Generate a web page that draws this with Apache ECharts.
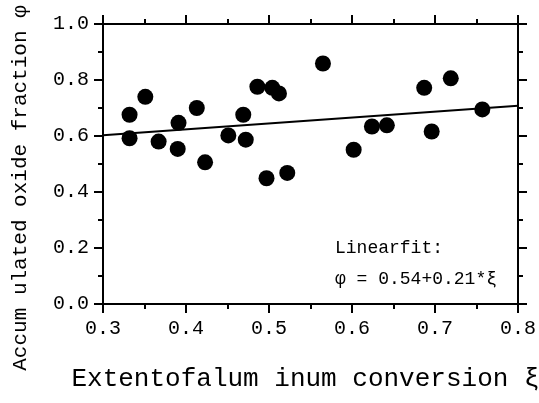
<!DOCTYPE html>
<html>
<head>
<meta charset="utf-8">
<script src="https://cdn.jsdelivr.net/npm/echarts@6/dist/echarts.min.js"></script>
<style>
  html, body { margin: 0; padding: 0; background: #fff; }
  #chart { width: 539px; height: 403px; }
</style>
</head>
<body>
<div id="chart"></div>
<script>
// measured points: extent of aluminum conversion vs accumulated oxide fraction
var xi = [0.332, 0.332, 0.351, 0.367, 0.390, 0.391, 0.413, 0.423, 0.451, 0.469, 0.472, 0.486,
  0.497, 0.504, 0.512, 0.522, 0.565, 0.602, 0.624, 0.642, 0.687, 0.696, 0.719, 0.757]
var phi = [0.676, 0.592, 0.740, 0.580, 0.554, 0.647, 0.700, 0.506, 0.602, 0.676, 0.587, 0.776,
  0.449, 0.772, 0.752, 0.468, 0.859, 0.551, 0.634, 0.638, 0.772, 0.616, 0.806, 0.695]
// end points of the linear fit line
var fitX = [0.3, 0.8]
var fitY = [0.603, 0.708]
var xTicks = { min: 0.3, max: 0.8, step: 0.1 }
var yTicks = { min: 0.0, max: 1.0, step: 0.2 }

var FONT = '"Liberation Mono", "DejaVu Sans Mono", monospace'

function axisStyle(showLabel) {
  return {
    axisLine: { show: true, onZero: false, lineStyle: { color: '#000', width: 2 } },
    axisTick: { show: true, inside: false, length: 9, lineStyle: { color: '#000', width: 2 } },
    minorTick: { show: true, splitNumber: 2, length: 5, lineStyle: { color: '#000', width: 2 } },
    splitLine: { show: false },
    axisLabel: {
      show: showLabel,
      color: '#000',
      fontFamily: FONT,
      fontSize: 20,
      formatter: function (v) { return v.toFixed(1) }
    }
  }
}

var chart = echarts.init(document.getElementById('chart'), null, { renderer: 'canvas' })

var xBottom = Object.assign({
  type: 'value', position: 'bottom', min: xTicks.min, max: xTicks.max, interval: xTicks.step,
  name: 'Extentofalum inum conversion ξ',
  nameLocation: 'middle',
  nameGap: 62,
  nameTextStyle: { color: '#000', fontFamily: FONT, fontSize: 26, padding: [0, 10, 0, 0] }
}, axisStyle(true))
xBottom.axisLabel.margin = 15

var xTop = Object.assign({
  type: 'value', position: 'top', min: xTicks.min, max: xTicks.max, interval: xTicks.step
}, axisStyle(false))

var yLeft = Object.assign({
  type: 'value', position: 'left', min: yTicks.min, max: yTicks.max, interval: yTicks.step
}, axisStyle(true))
yLeft.axisLabel.margin = 14

var yRight = Object.assign({
  type: 'value', position: 'right', min: yTicks.min, max: yTicks.max, interval: yTicks.step
}, axisStyle(false))

var option = {
  animation: false,
  backgroundColor: '#fff',
  grid: { left: 103, right: 21, top: 24, bottom: 99, containLabel: false, outerBoundsMode: 'none' },
  xAxis: [xBottom, xTop],
  yAxis: [yLeft, yRight],
  graphic: [
    {
      type: 'text',
      x: 20, y: 188,
      rotation: Math.PI / 2,
      style: {
        text: 'Accum ulated oxide fraction φ',
        fill: '#000',
        font: '21px ' + FONT,
        align: 'center',
        verticalAlign: 'middle'
      }
    },
    {
      type: 'text',
      x: 335, y: 248,
      style: {
        text: 'Linearfit:',
        fill: '#000',
        font: '18px ' + FONT,
        verticalAlign: 'middle'
      }
    },
    {
      type: 'text',
      x: 335, y: 279,
      style: {
        text: 'φ = 0.54+0.21*ξ',
        fill: '#000',
        font: '18px ' + FONT,
        verticalAlign: 'middle'
      }
    }
  ],
  series: [
    {
      type: 'line',
      xAxisIndex: 0, yAxisIndex: 0,
      data: fitX.map(function (x, i) { return [x, fitY[i]] }),
      showSymbol: false,
      lineStyle: { color: '#000', width: 2 },
      z: 2
    },
    {
      type: 'scatter',
      xAxisIndex: 0, yAxisIndex: 0,
      data: xi.map(function (x, i) { return [x, phi[i]] }),
      symbol: 'circle',
      symbolSize: 16,
      itemStyle: { color: '#000', opacity: 1 },
      z: 3
    }
  ]
}
chart.setOption(option)
</script>
</body>
</html>
